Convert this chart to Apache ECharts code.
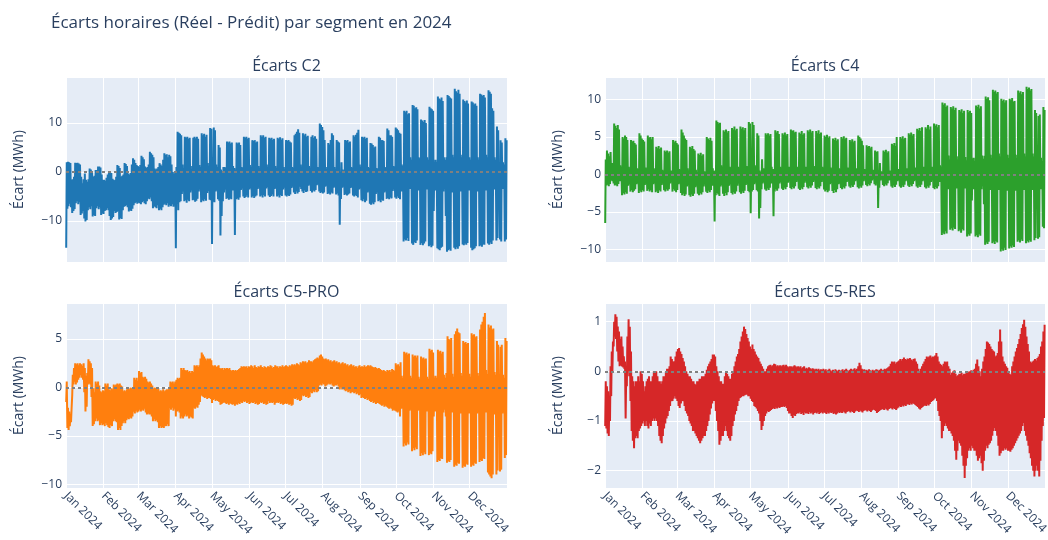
<!DOCTYPE html>
<html lang="fr">
<head>
<meta charset="utf-8">
<title>Écarts horaires (Réel - Prédit) par segment en 2024</title>
<script src="https://cdn.jsdelivr.net/npm/echarts@6/dist/echarts.min.js"></script>
<style>
  html, body { margin: 0; padding: 0; background: #ffffff; }
  #chart { width: 1048px; height: 540px; }
</style>
</head>
<body>
<div id="chart"></div>
<script>
// Daily low / high of the hourly gap (Réel - Prédit), MWh, one value per day of 2024 (366 days, Monday 1 Jan first).
const c2Hi = [
  2, 2.1, 2, 1.8, -1.6, -1.5, -1,
  1.9, 1.8, 1.9, 1.7, 1.5, -1, -2.3,
  -1.5, -0.3, -1.6, -2, -1.5, 0.7, 0.5,
  0, -1, -0.8, 0.4, 0.4, 1.1, 1.1,
  0.9, -0.5, -1.6, -1.6, -1.8, -1.2, -0.5,
  0, 0, -0.2, -1.4, -1.6, -1.7, -1,
  1.4, 1.2, 0.8, -1, -0.8, -0.5, 1.8,
  1.6, 1.2, -0.3, -0.5, -0.2, 1.5, 2.8,
  2.5, 1.8, 1.4, 1.2, 1.0, 1.4, 3.3,
  3.0, 2.6, 1.1, 0.8, 1.0, 1.5, 4.1,
  3.8, 3.5, 3.0, 0.7, 0.5, 0.7, 1,
  1.8, 1.5, 1.2, 2.5, 3.8, 3.5, 3.6,
  3.0, 3.5, 3.2, 1.5, 0, -0.3, 0.2,
  1, 8.2, 8.0, 7.8, 7.5, 1.5, 0.8,
  7.2, 7.0, 7.2, 6.8, 7.0, 1.2, 0.5,
  7.0, 7.2, 6.9, 7.2, 6.8, 1.4, 1.0,
  7.9, 7.5, 7.8, 7.2, 7.6, 1.8, 1.2,
  9.0, 8.8, 1, 9.1, 8.5, 1.5, 1.0,
  5.5, 5.0, 0.5, 0, 1, 1.0, 0.8,
  6.2, 6.0, 6.2, 5.8, 6.0, 1.2, 0.8,
  0.5, 6.0, 5.8, 6.0, 5.5, 1.0, 0.8,
  7.2, 7.0, 7.2, 6.8, 7.0, 1.4, 1.0,
  6.5, 6.3, 6.5, 6.0, 6.2, 1.2, 0.8,
  7.5, 7.2, 7.5, 7.0, 7.2, 1.5, 1.0,
  7.0, 6.8, 7.0, 6.6, 6.8, 1.2, 0.8,
  7.0, 6.8, 7.1, 6.6, 6.9, 1.0, 0.6,
  6.5, 6.3, 6.5, 6.2, 6.0, 1.0, 0.8,
  7.5, 7.8, 8.2, 8.7, 8.0, 1.5, 0.5,
  7.9, 7.5, 7.8, 7.2, 7.4, 1.2, 0.8,
  7.2, 7.5, 7.0, 7.3, 6.8, 1.0, 0.6,
  9.9, 9.6, 9.2, 8.5, 6.5, 1.0, 0.5,
  5.9, 5.6, 6.5, 7.9, 7.5, 1.0, 0.6,
  6.5, 6.2, 6.0, 0, 2, 0.5, 0.3,
  6.5, 6.3, 6.5, 6.0, 6.2, 1.0, 0.8,
  7.5, 7.2, 7.6, 8.0, 8.6, 1.5, 1.0,
  7.2, 7.0, 7.2, 6.8, 7.0, 1.0, 0.8,
  5.9, 5.8, 5.5, 5.0, 5.2, 0.8, 0.6,
  7.2, 7.0, 6.5, 6.5, 6.3, 1.0, 0.8,
  8.9, 8.5, 7.5, 7.5, 7.2, 1.2, 1.0,
  9.1, 8.8, 8.5, 8.0, 7.8, 1.5, 1.2,
  12.5, 12.2, 12.5, 11.8, 12.0, 3.0, 2.5,
  13.7, 13.5, 13.0, 13.2, 12.8, 3.0, 2.8,
  10.7, 10.5, 10.2, 10.6, 10.0, 3.0, 2.5,
  13.3, 13.0, 12.8, 12.5, 2, 2.5, 2.0,
  15.4, 15.0, 14.8, 15.2, 14.5, 3.0, 2.5,
  3, 15.7, 15.5, 15.2, 15.0, 3.5, 3.0,
  17.0, 16.5, 16.2, 16.8, 16.0, 3.5, 3.0,
  14.8, 14.5, 14.2, 14.6, 14.0, 3.0, 2.5,
  14.4, 14.2, 13.8, 14.0, 13.5, 3.0, 2.5,
  16.0, 15.8, 15.5, 15.7, 15.2, 3.5, 3.0,
  16.7, 16.4, 16.0, 13.0, 12.5, 3.0, 2.5,
  9.3, 8.5, 2, 6.5, 6.0, 2.0, 1.5,
  6.9, 6.5
];
const c2Lo = [
  -15.5, -7.5, -7.0, -6.5, -7.2, -8.4, -8.0,
  -7.6, -6.4, -6.0, -6.6, -6.2, -8.8, -8.5,
  -8.0, -9.5, -10.1, -9.8, -7.8, -7.2, -7.6,
  -7.0, -9.1, -8.8, -9.0, -7.4, -7.0, -7.6,
  -7.2, -8.8, -8.5, -8.6, -8.0, -7.8, -7.4,
  -7.8, -9.0, -9.8, -9.5, -9.2, -8.0, -8.4,
  -8.2, -8.0, -9.7, -9.4, -9.6, -7.8, -7.1,
  -7.0, -6.8, -7.2, -8.1, -7.8, -8.0, -7.5,
  -6.8, -6.4, -6.2, -6.5, -6.3, -6.4, -6.6,
  -6.2, -6.0, -6.4, -6.6, -6.0, -5.4, -5.6,
  -5.2, -6.0, -7.4, -7.0, -7.2, -7.4, -6.8,
  -7.8, -7.5, -7.8, -7.2, -6.7, -6.5, -6.8,
  -6.4, -7.1, -6.8, -7.0, -6.6, -7.1, -6.5,
  -15.6, -6.5, -7.8, -6.2, -6.0, -4.5, -4.0,
  -6.0, -5.8, -6.3, -5.7, -6.0, -4.2, -3.8,
  -5.8, -5.7, -6.1, -5.9, -5.5, -4.0, -3.6,
  -6.2, -5.8, -6.0, -5.6, -5.9, -4.3, -3.9,
  -5.7, -5.8, -14.7, -6.0, -6.2, -4.0, -3.8,
  -5.6, -5.9, -13.0, -9.0, -6.0, -4.2, -3.6,
  -5.5, -5.3, -5.7, -5.4, -5.6, -3.8, -3.5,
  -12.9, -5.6, -5.4, -5.7, -5.2, -3.7, -3.4,
  -5.0, -5.3, -5.1, -4.8, -5.2, -3.6, -3.3,
  -5.2, -4.9, -5.3, -5.0, -4.8, -3.5, -3.2,
  -5.0, -4.8, -5.2, -4.7, -5.0, -3.4, -3.1,
  -4.8, -5.1, -4.9, -4.6, -5.0, -3.5, -3.3,
  -5.0, -4.8, -5.2, -4.7, -4.9, -3.6, -3.2,
  -4.8, -5.0, -4.7, -4.9, -4.6, -3.3, -3.0,
  -4.2, -4.5, -4.0, -4.4, -4.1, -3.0, -3.5,
  -4.0, -4.3, -3.8, -4.1, -4.0, -2.8, -2.6,
  -3.9, -4.2, -3.8, -4.0, -3.7, -2.7, -2.5,
  -4.0, -4.3, -4.1, -4.4, -4.2, -3.0, -2.8,
  -4.5, -4.3, -4.6, -4.2, -4.4, -3.2, -3.0,
  -4.6, -4.4, -4.8, -10.8, -5.5, -3.2, -3.0,
  -4.7, -4.5, -4.8, -4.6, -4.4, -3.3, -3.1,
  -4.8, -5.0, -4.7, -4.9, -5.2, -3.6, -3.4,
  -5.8, -6.0, -5.6, -6.2, -5.9, -4.2, -4.0,
  -6.5, -6.7, -6.3, -6.6, -6.2, -4.5, -4.2,
  -6.0, -5.8, -6.2, -5.7, -5.9, -4.2, -4.0,
  -5.5, -5.3, -5.6, -5.2, -5.4, -3.9, -3.6,
  -5.2, -5.5, -5.0, -5.3, -5.6, -4.0, -3.8,
  -14.2, -13.8, -14.0, -13.5, -14.1, -3.5, -3.0,
  -14.6, -14.9, -14.3, -14.5, -14.0, -3.8, -3.2,
  -14.9, -14.5, -15.0, -14.6, -14.2, -3.6, -3.0,
  -15.2, -15.0, -15.4, -15.1, -8.0, -3.8, -3.2,
  -15.6, -15.8, -16.0, -15.5, -15.3, -4.0, -3.5,
  -9.0, -16.3, -16.0, -15.8, -16.1, -4.2, -3.6,
  -15.5, -15.8, -15.4, -15.7, -15.2, -4.0, -3.5,
  -14.8, -15.0, -14.6, -14.9, -14.5, -3.8, -3.3,
  -15.5, -16.0, -15.8, -15.6, -15.2, -4.0, -3.5,
  -15.2, -15.0, -15.3, -14.8, -14.9, -3.8, -3.4,
  -14.6, -14.9, -14.4, -14.7, -14.0, -3.6, -3.2,
  -14.0, -13.5, -7.0, -13.8, -14.2, -3.5, -3.0,
  -14.2, -13.8
];

const c4Hi = [
  2.0, 3.2, 2.8, 2.4, 3.0, 1.5, 1.0,
  6.8, 6.5, 6.2, 6.6, 6.0, 1.2, 0.8,
  5.0, 4.8, 5.2, 5.0, 4.6, 1.0, 0.6,
  4.6, 4.4, 4.5, 4.2, 4.0, 0.8, 0.5,
  5.5, 5.2, 4.8, 4.6, 4.4, 0.9, 0.6,
  5.2, 4.9, 5.0, 4.7, 5.0, 0.8, 0.6,
  3.7, 3.5, 3.8, 3.4, 3.6, 0.6, 0.4,
  3.2, 3.0, 3.2, 2.9, 3.1, 0.5, 0.3,
  4.6, 4.3, 4.5, 4.2, 4.0, 0.7, 0.5,
  6.0, 5.6, 5.2, 4.8, 4.6, 0.8, 0.5,
  3.7, 3.5, 3.8, 3.4, 3.2, 0.6, 0.3,
  2.8, 2.6, 2.9, 2.5, 2.7, 0.4, 0.2,
  5.0, 4.8, 4.6, 4.9, 4.5, 0.8, 0.4,
  0.5, 7.2, 7.0, 6.8, 6.9, 1.2, 0.8,
  5.9, 5.7, 6.0, 5.6, 5.8, 1.0, 0.7,
  6.2, 6.0, 6.4, 5.9, 6.1, 1.0, 0.8,
  6.4, 6.1, 6.3, 5.9, 6.2, 1.1, 0.8,
  7.0, 6.8, 0.5, 7.0, 6.6, 1.2, 0.9,
  5.5, 5.2, 0.5, 0.3, 2.0, 0.8, 0.6,
  5.5, 5.3, 5.5, 5.2, 5.4, 1.0, 0.7,
  0.5, 5.9, 5.6, 5.8, 5.4, 1.0, 0.8,
  5.5, 5.3, 5.6, 5.2, 5.4, 1.0, 0.7,
  6.0, 5.8, 5.9, 5.6, 5.7, 1.0, 0.8,
  5.6, 5.4, 5.8, 5.3, 5.5, 1.0, 0.7,
  5.9, 5.7, 6.0, 5.6, 5.8, 1.1, 0.8,
  5.8, 5.5, 5.9, 5.4, 5.6, 1.0, 0.7,
  5.2, 5.0, 5.3, 4.9, 5.1, 0.9, 0.6,
  4.8, 4.6, 4.9, 4.5, 4.7, 0.8, 0.4,
  5.0, 4.8, 5.1, 4.7, 4.9, 0.9, 0.6,
  4.6, 4.4, 4.7, 4.3, 4.5, 0.8, 0.6,
  5.2, 5.0, 4.8, 4.5, 3.9, 0.7, 0.5,
  3.9, 3.7, 3.8, 3.5, 3.7, 0.6, 0.4,
  3.2, 3.0, 3.1, 0, 1.5, 0.4, 0.2,
  3.2, 3.0, 3.3, 2.9, 3.1, 0.5, 0.3,
  4.1, 3.9, 4.2, 3.8, 5.0, 0.7, 0.5,
  5.0, 4.8, 5.1, 4.7, 4.9, 0.8, 0.6,
  5.5, 5.3, 5.6, 5.2, 5.4, 0.9, 0.7,
  6.1, 5.9, 6.2, 5.8, 6.3, 1.0, 0.8,
  6.3, 6.1, 6.6, 6.0, 6.4, 1.0, 0.8,
  6.8, 6.5, 6.7, 6.3, 6.6, 1.2, 1.0,
  9.6, 9.3, 9.5, 9.0, 9.2, 2.5, 2.0,
  9.0, 8.8, 9.1, 8.6, 8.9, 2.4, 2.0,
  8.6, 8.4, 8.7, 8.2, 8.5, 2.3, 1.9,
  8.6, 8.3, 8.5, 8.2, 2.0, 2.2, 1.8,
  9.2, 9.0, 9.3, 8.8, 9.1, 2.5, 2.1,
  2.5, 10.4, 10.1, 10.3, 9.9, 2.6, 2.2,
  11.3, 11.0, 11.2, 10.8, 11.0, 2.8, 2.4,
  10.1, 9.8, 10.0, 9.6, 9.9, 2.6, 2.2,
  10.1, 9.9, 10.2, 9.7, 9.8, 2.6, 2.2,
  11.2, 10.9, 11.1, 10.7, 11.0, 2.8, 2.4,
  11.7, 11.4, 11.6, 11.2, 11.4, 2.8, 2.4,
  8.6, 8.2, 1.5, 7.8, 8.0, 2.2, 1.8,
  9.0, 8.6
];
const c4Lo = [
  -6.5, -1.5, -1.4, -1.6, -1.3, -0.8, -0.9,
  -1.2, -1.5, -1.4, -1.6, -1.3, -0.9, -0.8,
  -2.8, -2.5, -2.7, -2.4, -2.6, -1.5, -1.3,
  -2.3, -2.1, -2.4, -2.2, -2.0, -1.3, -1.1,
  -2.5, -2.2, -2.4, -2.1, -2.3, -1.4, -1.2,
  -2.2, -2.0, -2.3, -2.1, -2.4, -1.3, -1.1,
  -2.4, -2.2, -2.5, -2.1, -2.3, -1.4, -1.2,
  -2.1, -2.3, -2.0, -2.2, -2.0, -1.2, -1.0,
  -2.3, -2.0, -2.2, -2.4, -2.1, -1.3, -1.1,
  -2.5, -2.8, -2.6, -2.9, -2.7, -1.6, -1.4,
  -2.8, -3.0, -2.7, -2.9, -2.6, -1.7, -1.5,
  -2.6, -2.8, -2.5, -2.7, -2.4, -1.6, -1.3,
  -2.3, -2.5, -2.2, -2.4, -2.1, -1.5, -1.2,
  -6.3, -2.8, -2.5, -2.7, -2.9, -1.6, -1.4,
  -2.6, -2.9, -2.5, -2.8, -2.4, -1.5, -1.3,
  -2.5, -2.7, -2.4, -2.6, -2.3, -1.5, -1.2,
  -2.4, -2.6, -2.3, -2.5, -2.2, -1.4, -1.2,
  -2.2, -2.4, -5.2, -2.3, -2.1, -1.3, -1.1,
  -2.1, -2.3, -5.9, -4.5, -2.0, -1.2, -1.0,
  -2.0, -2.2, -1.9, -2.1, -1.8, -1.2, -1.0,
  -5.6, -2.3, -2.0, -2.2, -1.9, -1.2, -1.0,
  -1.9, -2.1, -1.8, -2.0, -1.7, -1.1, -0.9,
  -1.8, -2.0, -1.7, -1.9, -1.6, -1.0, -0.8,
  -1.9, -2.1, -1.8, -2.0, -1.7, -1.1, -0.9,
  -1.7, -1.9, -1.6, -1.8, -1.5, -1.0, -0.8,
  -1.8, -2.0, -1.7, -1.9, -1.6, -1.0, -0.8,
  -2.0, -2.3, -2.1, -2.4, -2.2, -1.3, -1.1,
  -2.2, -2.5, -2.1, -2.4, -2.0, -1.3, -1.2,
  -1.8, -2.0, -1.7, -1.9, -1.6, -1.0, -0.8,
  -1.6, -1.8, -1.5, -1.7, -1.4, -0.9, -0.7,
  -1.7, -1.9, -1.6, -1.8, -1.5, -0.9, -0.7,
  -1.4, -1.6, -1.3, -1.5, -1.2, -0.8, -0.6,
  -1.3, -1.5, -1.2, -4.5, -1.8, -0.8, -0.6,
  -1.4, -1.6, -1.3, -1.5, -1.2, -0.8, -0.6,
  -1.6, -1.8, -1.5, -1.7, -1.4, -0.9, -0.7,
  -1.6, -1.8, -1.5, -1.7, -1.4, -0.9, -0.7,
  -1.5, -1.7, -1.4, -1.6, -1.3, -0.9, -0.7,
  -1.6, -1.8, -1.5, -1.7, -1.4, -0.9, -0.7,
  -1.7, -1.9, -1.6, -1.8, -1.5, -1.0, -0.8,
  -1.8, -2.0, -1.7, -1.9, -1.6, -1.0, -0.8,
  -8.1, -7.8, -8.0, -7.6, -7.9, -2.0, -1.6,
  -7.4, -7.2, -7.5, -7.1, -7.3, -1.9, -1.5,
  -7.6, -7.4, -7.8, -7.3, -7.5, -1.9, -1.5,
  -8.3, -8.0, -8.2, -7.9, -3.5, -2.0, -1.6,
  -8.3, -8.1, -8.4, -8.0, -8.2, -2.0, -1.6,
  -4.0, -9.4, -9.1, -9.3, -9.0, -2.1, -1.7,
  -9.2, -9.0, -9.3, -8.9, -9.1, -2.1, -1.7,
  -10.3, -10.0, -10.2, -9.8, -10.1, -2.2, -1.8,
  -9.9, -9.6, -9.8, -9.5, -9.7, -2.2, -1.8,
  -9.0, -8.8, -9.1, -8.7, -8.9, -2.1, -1.7,
  -9.2, -8.9, -9.1, -8.8, -9.0, -2.1, -1.7,
  -8.8, -8.5, -3.0, -8.6, -8.4, -2.0, -1.6,
  -7.0, -7.2
];

const proHi = [
  0.6, -2.1, -2.5, -2.8, -2.2, 1.3, 2.0,
  2.5, 2.4, 2.5, 2.3, 2.5, 2.4, 2.2,
  2.5, 2.0, 1.2, 1.5, 2.9, 2.7, 2.5,
  2.0, -0.1, -0.5, 0.6, 0.4, 0.6, 0.2,
  -0.4, -0.5, -0.3, -0.4, 0.4, 0.2, 0.4,
  -0.2, -0.3, -0.1, -0.2, 0.3, 0.2, 0.3,
  0.4, 0.3, 0.4, 0.2, 0.1, -0.4, -0.3,
  -0.4, -0.2, -0.1, -0.2, 0.0, -0.1, -0.2,
  1.0, 0.8, 1.0, 0.7, 1.7, 1.5, 1.6,
  1.1, 1.0, 1.1, 0.9, 0.6, 0.5, 0.6,
  0.4, 0.2, -0.1, 0.0, -0.1, -0.2, -0.1,
  -0.4, -0.3, -0.4, -0.2, -0.4, -0.3, -0.2,
  -0.2, -0.1, 0.6, 0.5, 0.6, 0.4, 0.6,
  0.8, 1.0, 0.9, 1.0, 2.0, 1.8, 2.0,
  1.8, 1.7, 1.8, 1.6, 1.7, 1.5, 1.7,
  1.6, 2.3, 2.2, 2.3, 2.1, 2.3, 3.0,
  3.6, 3.4, 3.2, 3.0, 2.8, 3.0, 2.9,
  3.0, 2.8, 2.3, 2.2, 2.3, 2.1, 2.2,
  2.3, 2.0, 1.9, 2.0, 1.8, 2.0, 1.9,
  2.0, 1.9, 2.0, 1.8, 1.7, 1.8, 1.7,
  1.8, 1.7, 1.8, 1.9, 2.0, 2.2, 2.1,
  2.2, 2.1, 2.2, 2.0, 2.2, 2.1, 2.3,
  2.2, 2.0, 2.3, 2.1, 2.0, 2.2, 2.1,
  2.3, 2.1, 2.0, 2.2, 2.1, 2.0, 2.2,
  2.1, 2.3, 2.2, 2.0, 2.1, 2.3, 2.2,
  2.2, 2.0, 2.2, 2.1, 2.3, 2.1, 2.2,
  2.3, 2.2, 2.1, 2.3, 2.2, 2.4, 2.3,
  2.4, 2.3, 2.5, 2.4, 2.3, 2.6, 2.5,
  2.7, 2.6, 2.7, 2.5, 2.6, 2.8, 2.7,
  2.7, 2.6, 2.8, 2.9, 3.0, 3.1, 3.0,
  3.3, 3.4, 3.2, 3.0, 2.9, 3.0, 2.8,
  2.9, 2.7, 2.8, 2.6, 2.7, 2.8, 2.6,
  2.7, 2.5, 2.6, 2.4, 2.5, 2.6, 2.4,
  2.5, 2.3, 2.4, 2.2, 2.3, 2.4, 2.2,
  2.3, 2.1, 2.2, 2.0, 2.2, 2.3, 2.1,
  2.2, 2.1, 2.3, 2.1, 2.2, 2.3, 2.2,
  2.3, 2.2, 2.1, 2.0, 2.1, 2.0, 1.9,
  2.0, 1.9, 1.8, 1.7, 1.8, 1.7, 1.6,
  1.8, 1.7, 1.8, 1.6, 1.9, 1.8, 1.7,
  2.5, 2.3, 2.4, 2.2, 2.6, 1.2, 1.0,
  3.7, 3.5, 3.6, 3.4, 3.5, 1.2, 1.0,
  3.4, 3.2, 3.3, 3.1, 3.3, 1.1, 0.9,
  3.2, 3.0, 3.1, 2.9, 3.0, 1.1, 0.9,
  4.0, 3.8, 3.9, 3.6, 1.0, 1.2, 1.0,
  3.9, 3.7, 3.8, 3.5, 3.7, 1.3, 1.0,
  1.5, 5.3, 5.0, 4.9, 5.1, 1.4, 1.1,
  5.5, 5.8, 6.1, 5.7, 5.6, 1.5, 1.2,
  4.8, 4.6, 4.7, 4.5, 4.6, 1.4, 1.1,
  5.6, 5.4, 5.5, 5.2, 5.3, 1.5, 1.2,
  6.0, 6.5, 6.8, 7.3, 7.7, 1.8, 1.4,
  6.5, 6.2, 6.4, 6.0, 6.1, 1.6, 1.3,
  4.8, 4.4, 1.0, 4.2, 4.4, 1.3, 1.0,
  5.1, 4.8
];
const proLo = [
  -1.5, -4.2, -4.4, -4.0, -3.6, -0.8, 0.3,
  0.6, 0.3, 0.5, 0.8, 1.0, 1.3, 1.0,
  0.8, -0.5, -2.5, -2.0, 0.3, 0.4, 0.3,
  -1.0, -4.0, -3.8, -3.5, -3.2, -3.5, -3.4,
  -3.9, -3.7, -3.9, -3.8, -4.0, -3.7, -3.9,
  -4.1, -4.2, -3.9, -4.0, -3.5, -3.3, -3.5,
  -3.6, -4.4, -4.2, -4.4, -4.0, -3.7, -3.5,
  -3.7, -3.4, -3.2, -3.3, -3.1, -3.2, -3.0,
  -2.5, -2.7, -2.4, -2.6, -2.5, -2.3, -2.5,
  -2.3, -2.4, -2.2, -2.6, -2.8, -2.7, -2.8,
  -2.8, -3.0, -3.5, -3.3, -3.5, -3.4, -3.6,
  -4.2, -4.0, -4.2, -4.1, -4.2, -4.0, -4.0,
  -3.8, -4.0, -2.1, -2.3, -2.1, -2.4, -2.2,
  -3.0, -2.5, -2.4, -2.6, -3.2, -3.0, -3.2,
  -3.0, -2.8, -3.0, -2.9, -3.2, -3.0, -3.1,
  -3.2, -2.1, -2.2, -2.0, -2.1, -1.8, -1.5,
  -0.8, -0.9, -1.0, -1.1, -1.0, -1.2, -1.1,
  -1.1, -1.2, -1.6, -1.3, -1.2, -1.4, -1.3,
  -1.4, -1.5, -1.8, -1.7, -1.6, -1.5, -1.6,
  -1.7, -1.6, -1.8, -1.6, -1.7, -1.8, -1.7,
  -1.9, -1.7, -1.8, -1.6, -1.7, -1.5, -1.6,
  -1.4, -1.5, -1.4, -1.6, -1.5, -1.7, -1.6,
  -1.5, -1.6, -1.5, -1.7, -1.6, -1.8, -1.7,
  -1.5, -1.6, -1.5, -1.7, -1.6, -1.8, -1.7,
  -1.4, -1.6, -1.5, -1.6, -1.5, -1.8, -1.6,
  -1.5, -1.6, -1.5, -1.7, -1.6, -1.8, -1.7,
  -1.6, -1.7, -1.6, -1.8, -1.7, -1.9, -1.8,
  -1.1, -1.2, -1.1, -1.3, -1.2, -1.4, -1.3,
  -0.8, -0.9, -0.8, -1.0, -0.9, -1.1, -1.0,
  -0.5, -0.6, -0.4, -0.5, -0.3, -0.5, -0.4,
  0.2, 0.3, 0.2, 0.4, 0.3, 0.1, 0.2,
  0.3, 0.4, 0.3, 0.4, 0.2, 0.1, 0.2,
  0.2, 0.3, 0.1, -0.2, 0.0, -0.2, -0.1,
  -0.3, -0.4, -0.3, -0.5, -0.4, -0.6, -0.5,
  -0.5, -0.6, -0.5, -0.7, -0.6, -0.8, -0.7,
  -1.1, -1.0, -1.1, -1.2, -1.1, -1.3, -1.2,
  -1.4, -1.5, -1.4, -1.6, -1.5, -1.7, -1.6,
  -1.6, -1.7, -1.8, -1.9, -1.8, -2.0, -1.9,
  -2.0, -2.1, -2.2, -2.1, -2.2, -2.4, -2.3,
  -2.4, -2.5, -2.6, -2.5, -3.0, -2.2, -2.0,
  -6.1, -5.8, -6.0, -5.7, -5.9, -2.4, -2.1,
  -6.6, -6.3, -6.5, -6.2, -6.4, -2.4, -2.1,
  -7.1, -6.8, -7.0, -6.7, -6.9, -2.5, -2.2,
  -7.0, -6.8, -6.9, -6.6, -3.0, -2.5, -2.2,
  -7.7, -7.5, -7.6, -7.3, -7.4, -2.6, -2.3,
  -3.0, -7.8, -7.6, -7.7, -7.5, -2.6, -2.3,
  -8.2, -8.0, -8.1, -7.8, -7.9, -2.7, -2.4,
  -8.3, -8.1, -8.2, -7.9, -8.0, -2.7, -2.4,
  -8.2, -8.0, -8.1, -7.8, -7.9, -2.7, -2.4,
  -7.7, -7.5, -7.6, -7.3, -7.4, -2.6, -2.3,
  -8.8, -9.0, -9.2, -9.4, -9.0, -2.8, -2.5,
  -9.0, -8.6, -3.0, -8.7, -8.5, -2.7, -2.4,
  -7.3, -7.0
];

const resHi = [
  -0.2, -0.3, -0.4, -0.5, 0.1, 0.4, 0.6,
  1.0, 1.15, 1.1, 0.9, 0.8, 0.65, 0.7,
  0.5, 0.3, 0.2, -0.1, 0.7, 1.05, 0.9,
  0.4, -0.1, -0.2, -0.3, -0.2, -0.2, -0.1,
  -0.2, 0.0, -0.05, -0.2, -0.4, -0.3, -0.2,
  -0.15, -0.1, -0.2, -0.2, -0.1, 0.0, 0.0,
  0.0, -0.1, -0.2, -0.2, -0.25, -0.2, -0.1,
  -0.1, 0.0, 0.05, 0.05, 0.1, 0.3, 0.25,
  0.2, 0.2, 0.3, 0.4, 0.45, 0.47, 0.4,
  0.35, 0.27, 0.2, 0.1, 0.0, -0.05, -0.1,
  -0.1, -0.15, -0.2, -0.2, -0.25, -0.27, -0.2,
  -0.2, -0.15, -0.15, -0.1, -0.1, -0.1, -0.05,
  0.03, 0.1, 0.15, 0.2, 0.25, 0.34, 0.34,
  0.3, 0.1, 0.0, -0.1, -0.2, -0.2, -0.25,
  -0.25, -0.1, 0.0, -0.05, -0.1, -0.15, -0.15,
  -0.05, 0.0, 0.1, 0.2, 0.3, 0.35, 0.45,
  0.6, 0.7, 0.8, 0.9, 0.85, 0.75, 0.67,
  0.6, 0.5, 0.45, 0.54, 0.45, 0.4, 0.34,
  0.3, 0.27, 0.2, 0.15, 0.1, 0.05, 0.0,
  0.0, 0.05, 0.1, 0.12, 0.13, 0.1, 0.12,
  0.15, 0.14, 0.1, 0.12, 0.1, 0.12, 0.1,
  0.12, 0.13, 0.1, 0.13, 0.1, 0.08, 0.1,
  0.1, 0.08, 0.1, 0.12, 0.1, 0.08, 0.1,
  0.08, 0.1, 0.06, 0.08, 0.1, 0.05, 0.07,
  0.05, 0.08, 0.06, 0.04, 0.06, 0.05, 0.03,
  0.05, 0.03, 0.05, 0.02, 0.04, 0.03, 0.05,
  0.02, 0.04, 0.0, 0.03, 0.05, 0.02, 0.0,
  0.03, 0.01, 0.04, 0.02, 0.0, 0.03, 0.01,
  0.02, 0.04, 0.01, 0.03, 0.05, 0.02, 0.0,
  0.03, 0.05, 0.02, 0.04, 0.06, 0.03, 0.05,
  0.1, 0.17, 0.12, 0.05, 0.03, 0.04, 0.02,
  0.03, 0.01, 0.04, 0.02, 0.0, 0.03, 0.01,
  0.02, 0.04, 0.03, 0.01, 0.03, 0.05, 0.02,
  0.03, 0.05, 0.04, 0.06, 0.08, 0.1, 0.15,
  0.2, 0.18, 0.2, 0.15, 0.18, 0.2, 0.22,
  0.25, 0.22, 0.25, 0.28, 0.25, 0.23, 0.26,
  0.25, 0.27, 0.24, 0.22, 0.25, 0.26, 0.2,
  0.15, 0.05, 0.0, 0.05, 0.1, 0.15, 0.2,
  0.25, 0.3, 0.28, 0.3, 0.32, 0.28, 0.3,
  0.3, 0.32, 0.37, 0.3, 0.2, 0.15, 0.13,
  0.1, 0.15, 0.2, 0.18, 0.2, 0.1, 0.05,
  -0.07, -0.03, 0.0, 0.02, -0.05, -0.1, -0.08,
  -0.05, -0.05, -0.03, -0.08, -0.05, -0.05, -0.02,
  0.0, -0.02, 0.0, 0.02, 0.0, 0.03, 0.05,
  0.15, 0.24, 0.1, 0.0, -0.1, 0.05, 0.2,
  0.3, 0.45, 0.6, 0.58, 0.55, 0.5, 0.45,
  0.42, 0.4, 0.3, 0.32, 0.37, 0.6, 0.84,
  0.6, 0.3, 0.2, 0.15, 0.1, 0.07, 0.0,
  -0.05, -0.07, 0.1, 0.2, 0.3, 0.4, 0.47,
  0.55, 0.65, 0.75, 0.87, 0.95, 1.04, 0.9,
  0.7, 0.55, 0.4, 0.2, 0.17, 0.2, 0.22,
  0.25, 0.22, 0.27, 0.3, 0.35, 0.5, 0.6,
  0.8, 0.94
];
const resLo = [
  -1.1, -1.15, -1.25, -1.3, -1.0, -0.5, 0.0,
  0.5, 0.7, 0.65, 0.4, 0.2, 0.1, 0.12,
  0.1, 0.08, 0.05, -0.95, -0.3, 0.0, -0.1,
  -0.6, -1.2, -1.4, -1.55, -1.35, -1.3, -1.35,
  -1.2, -1.15, -1.1, -1.05, -1.0, -1.1, -1.0,
  -1.1, -1.15, -1.05, -1.1, -1.0, -0.95, -1.0,
  -0.95, -1.0, -1.1, -1.3, -1.4, -1.45, -1.3,
  -1.15, -1.05, -0.95, -0.9, -0.8, -0.7, -0.6,
  -0.6, -0.55, -0.5, -0.55, -0.6, -0.7, -0.74,
  -0.65, -0.6, -0.6, -0.7, -0.8, -0.85, -0.9,
  -1.0, -1.05, -1.1, -1.2, -1.2, -1.25, -1.3,
  -1.35, -1.4, -1.45, -1.4, -1.35, -1.3, -1.3,
  -1.2, -1.1, -1.0, -0.87, -0.75, -0.65, -0.6,
  -0.6, -0.8, -1.0, -1.2, -1.48, -1.4, -1.3,
  -1.3, -1.2, -1.1, -1.2, -1.3, -1.35, -1.4,
  -1.3, -1.1, -1.0, -0.87, -0.8, -0.7, -0.6,
  -0.54, -0.52, -0.5, -0.5, -0.48, -0.47, -0.47,
  -0.5, -0.5, -0.55, -0.6, -0.62, -0.7, -0.72,
  -0.75, -0.8, -0.85, -1.0, -1.18, -1.1, -1.0,
  -0.9, -0.85, -0.8, -0.82, -0.8, -0.78, -0.76,
  -0.74, -0.76, -0.73, -0.75, -0.72, -0.74, -0.72,
  -0.72, -0.7, -0.72, -0.7, -0.74, -0.8, -0.85,
  -0.85, -0.9, -0.94, -0.88, -0.9, -0.86, -0.84,
  -0.85, -0.82, -0.86, -0.84, -0.88, -0.83, -0.85,
  -0.84, -0.86, -0.82, -0.85, -0.83, -0.87, -0.84,
  -0.83, -0.85, -0.82, -0.86, -0.84, -0.82, -0.85,
  -0.82, -0.84, -0.86, -0.83, -0.85, -0.82, -0.84,
  -0.83, -0.86, -0.84, -0.87, -0.85, -0.82, -0.84,
  -0.82, -0.84, -0.81, -0.83, -0.85, -0.82, -0.8,
  -0.81, -0.83, -0.8, -0.82, -0.84, -0.81, -0.79,
  -0.8, -0.82, -0.79, -0.81, -0.83, -0.8, -0.78,
  -0.79, -0.81, -0.78, -0.8, -0.82, -0.79, -0.77,
  -0.78, -0.8, -0.84, -0.82, -0.8, -0.78, -0.77,
  -0.76, -0.78, -0.75, -0.77, -0.79, -0.76, -0.74,
  -0.75, -0.77, -0.74, -0.76, -0.78, -0.75, -0.73,
  -0.7, -0.72, -0.69, -0.71, -0.68, -0.7, -0.67,
  -0.66, -0.68, -0.65, -0.67, -0.64, -0.66, -0.68,
  -0.7, -0.72, -0.75, -0.77, -0.74, -0.72, -0.7,
  -0.68, -0.7, -0.67, -0.69, -0.66, -0.62, -0.6,
  -0.58, -0.55, -0.54, -0.6, -0.8, -0.9, -1.0,
  -1.35, -1.2, -1.1, -1.05, -1.1, -1.15, -1.2,
  -1.2, -1.25, -1.3, -1.4, -1.6, -1.78, -1.6,
  -1.4, -1.45, -1.5, -1.7, -1.9, -2.15, -1.9,
  -1.75, -1.6, -1.55, -1.6, -1.5, -1.55, -1.6,
  -1.6, -1.7, -1.8, -1.75, -1.7, -1.85, -2.0,
  -1.8, -1.6, -1.5, -1.55, -1.48, -1.45, -1.4,
  -1.3, -1.2, -1.14, -1.2, -1.3, -1.5, -1.7,
  -1.65, -1.6, -1.6, -1.55, -1.58, -1.55, -1.6,
  -1.6, -1.62, -1.58, -1.55, -1.5, -1.45, -1.4,
  -1.35, -1.3, -1.25, -1.2, -1.1, -1.04, -1.2,
  -1.3, -1.4, -1.5, -1.65, -1.75, -1.9, -2.0,
  -2.12, -2.0, -1.9, -2.0, -2.12, -1.8, -1.4,
  -1.1, -0.94
];

const monthLabels = ['Jan', 'Feb', 'Mar', 'Apr', 'May', 'Jun', 'Jul', 'Aug', 'Sep', 'Oct', 'Nov', 'Dec'];
const panelTitles = ['Écarts C2', 'Écarts C4', 'Écarts C5-PRO', 'Écarts C5-RES'];
const panelColors = ['#1f77b4', '#2ca02c', '#ff7f0e', '#d62728'];
const yRanges = [[-18.4, 19.4], [-11.7, 13.0], [-10.4, 8.73], [-2.35, 1.376]];
const ySplits = [4, 5, 4, 4];

const HOUR = 3600 * 1000;
const DAY = 24 * HOUR;
const T0 = new Date(2024, 0, 1).getTime();
const T_END = T0 + 366 * DAY - HOUR;

// Each day contributes its night low and its afternoon high, giving the hourly swing.
function dailySwing(lo, hi) {
  const pts = [];
  for (let d = 0; d < lo.length; d++) {
    const base = T0 + d * DAY;
    pts.push([base + 4 * HOUR, lo[d]]);
    pts.push([base + 15 * HOUR, hi[d]]);
  }
  return pts;
}

const seriesData = [
  dailySwing(c2Lo, c2Hi),
  dailySwing(c4Lo, c4Hi),
  dailySwing(proLo, proHi),
  dailySwing(resLo, resHi)
];

const FONT = '"Open Sans", "Noto Sans", sans-serif';
const INK = '#2a3f5f';

const grids = [
  { left: 66, top: 77, width: 441, height: 185 },
  { left: 605, top: 77, width: 440, height: 185 },
  { left: 66, top: 303, width: 441, height: 185 },
  { left: 605, top: 303, width: 440, height: 185 }
].map(g => Object.assign(g, {
  show: true, backgroundColor: '#E5ECF6', borderWidth: 0, containLabel: false, outerBoundsMode: 'none'
}));

const minus = v => (v < 0 ? '\u2212' + Math.abs(v) : String(v));

const xAxes = grids.map((g, i) => ({
  type: 'time',
  gridIndex: i,
  min: T0,
  max: T_END,
  minInterval: 28 * DAY,
  maxInterval: 31 * DAY,
  axisLine: { show: false },
  axisTick: { show: false },
  splitLine: { show: true, lineStyle: { color: '#ffffff', width: 1 } },
  axisLabel: {
    show: i >= 2,
    rotate: -45,
    margin: 6,
    color: INK,
    fontFamily: FONT,
    fontSize: 12,
    hideOverlap: false,
    formatter: function (value) {
      const d = new Date(value);
      if (d.getDate() !== 1 || d.getHours() !== 0) return '';
      return monthLabels[d.getMonth()] + ' ' + d.getFullYear();
    }
  }
}));

const yAxes = grids.map((g, i) => ({
  type: 'value',
  gridIndex: i,
  min: yRanges[i][0],
  max: yRanges[i][1],
  splitNumber: ySplits[i],
  name: 'Écart (MWh)',
  nameLocation: 'middle',
  nameGap: 40,
  nameTextStyle: { color: INK, fontFamily: FONT, fontSize: 14 },
  axisLine: { show: false },
  axisTick: { show: false },
  splitLine: { show: true, lineStyle: { color: '#ffffff', width: 1 } },
  axisLabel: {
    color: INK, fontFamily: FONT, fontSize: 12, margin: 4,
    showMinLabel: false, showMaxLabel: false,
    formatter: minus
  }
}));

const series = seriesData.map((data, i) => ({
  type: 'line',
  name: panelTitles[i],
  xAxisIndex: i,
  yAxisIndex: i,
  data: data,
  showSymbol: false,
  symbol: 'none',
  sampling: null,
  lineStyle: { color: panelColors[i], width: 2 },
  itemStyle: { color: panelColors[i] },
  emphasis: { disabled: true },
  markLine: {
    silent: true,
    symbol: 'none',
    label: { show: false },
    lineStyle: { color: '#808080', width: 2, type: [3, 3] },
    data: [{ yAxis: 0 }]
  },
  z: 2
}));

const centers = [286.5, 825, 286.5, 825];
const titleY = [66, 66, 292, 292];
const graphics = panelTitles.map((t, i) => ({
  type: 'text',
  x: centers[i],
  y: titleY[i],
  style: {
    text: t, fill: INK, font: '16px ' + FONT, align: 'center', verticalAlign: 'middle'
  }
}));

const chart = echarts.init(document.getElementById('chart'), null, { renderer: 'canvas' });
chart.setOption({
  animation: false,
  backgroundColor: '#ffffff',
  title: {
    text: 'Écarts horaires (Réel - Prédit) par segment en 2024',
    left: 46,
    top: 10,
    textStyle: { color: INK, fontFamily: FONT, fontSize: 17, fontWeight: 'normal' }
  },
  grid: grids,
  xAxis: xAxes,
  yAxis: yAxes,
  series: series,
  graphic: graphics
});
</script>
</body>
</html>
